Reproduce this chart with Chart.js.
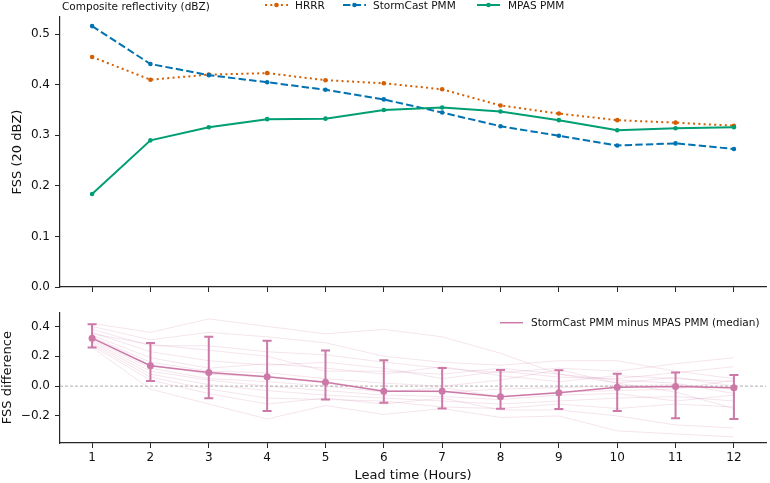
<!DOCTYPE html>
<html>
<head>
<meta charset="utf-8">
<script src="https://cdn.jsdelivr.net/npm/chart.js@4.4.1/dist/chart.umd.min.js"></script>
<style>
  html, body { margin: 0; padding: 0; background: #fff; }
  #wrap { position: relative; width: 770px; height: 483px; }
  #top { position: absolute; left: 0; top: 0; width: 770px; height: 300px; }
  #bottom { position: absolute; left: 0; top: 300px; width: 770px; height: 183px; }
</style>
</head>
<body>
<div id="wrap">
  <div id="top"><canvas id="fssChart"></canvas></div>
  <div id="bottom"><canvas id="diffChart"></canvas></div>
</div>
<script>
var leadTimes = [1, 2, 3, 4, 5, 6, 7, 8, 9, 10, 11, 12];

// top panel: FSS at 20 dBZ
var hrrr      = [0.455, 0.410, 0.420, 0.423, 0.409, 0.403, 0.391, 0.359, 0.343, 0.330, 0.325, 0.319];
var stormcast = [0.516, 0.441, 0.419, 0.405, 0.390, 0.371, 0.345, 0.318, 0.299, 0.280, 0.284, 0.273];
var mpas      = [0.184, 0.290, 0.316, 0.332, 0.333, 0.350, 0.355, 0.347, 0.330, 0.310, 0.314, 0.316];

// bottom panel: StormCast PMM minus MPAS PMM
var diffMedian = [0.321, 0.137, 0.091, 0.063, 0.026, -0.035, -0.035, -0.072, -0.044, -0.007, -0.002, -0.011];
var diffLow    = [0.258, 0.035, -0.081, -0.167, -0.089, -0.111, -0.150, -0.152, -0.154, -0.167, -0.215, -0.221];
var diffHigh   = [0.414, 0.289, 0.330, 0.304, 0.238, 0.174, 0.121, 0.108, 0.106, 0.082, 0.091, 0.074];
var diffCases = [
  [0.42, 0.36, 0.45, 0.40, 0.35, 0.38, 0.33, 0.22, 0.08, 0.02, -0.04, -0.15],
  [0.40, 0.31, 0.36, 0.33, 0.29, 0.20, 0.16, 0.14, 0.17, 0.17, 0.10, 0.05],
  [0.38, 0.27, 0.27, 0.23, 0.21, 0.16, 0.12, 0.09, 0.12, 0.10, 0.15, 0.19],
  [0.36, 0.23, 0.17, 0.14, 0.16, 0.12, 0.05, 0.10, 0.06, 0.05, 0.09, 0.13],
  [0.35, 0.28, 0.24, 0.20, 0.10, 0.10, 0.08, 0.12, 0.08, 0.04, 0.02, -0.05],
  [0.34, 0.19, 0.12, 0.15, 0.12, 0.08, 0.13, 0.07, 0.03, 0.07, 0.05, 0.03],
  [0.33, 0.16, 0.10, 0.09, 0.05, 0.02, 0.00, 0.04, 0.11, 0.02, 0.06, 0.00],
  [0.32, 0.14, 0.08, 0.06, 0.03, -0.03, -0.04, -0.02, -0.01, 0.00, 0.01, -0.02],
  [0.31, 0.12, 0.05, 0.03, 0.00, -0.04, -0.01, -0.07, -0.04, -0.03, -0.02, 0.04],
  [0.30, 0.10, 0.04, 0.00, -0.03, -0.06, -0.07, -0.09, -0.06, -0.05, -0.10, -0.06],
  [0.29, 0.08, 0.01, -0.03, -0.06, -0.08, -0.10, -0.12, -0.10, -0.08, -0.07, -0.10],
  [0.28, 0.06, -0.02, -0.08, -0.09, -0.10, -0.14, -0.15, -0.12, -0.15, -0.12, -0.14],
  [0.27, 0.04, -0.05, -0.12, -0.08, -0.12, -0.08, -0.16, -0.16, -0.20, -0.26, -0.28],
  [0.26, -0.02, -0.12, -0.22, -0.13, -0.19, -0.15, -0.21, -0.20, -0.30, -0.32, -0.34]
];

var ORANGE = '#D55E00', BLUE = '#0072B2', GREEN = '#009E73', PINK = '#CC79A7';
var AXIS = '#262626';
var FONT = 'DejaVu Sans';

Chart.defaults.font.family = FONT;
Chart.defaults.color = '#111';

function pts(values) {
  return leadTimes.map(function(t, i) { return {x: t, y: values[i]}; });
}

function fmt(v) {
  if (Math.abs(v) < 1e-9) return '0.0';
  return v.toFixed(1).replace('-', '\u2212');
}

function xAxis(showLabels, height) {
  return {
    type: 'linear', min: 0.45, max: 12.55,
    ticks: {stepSize: 1, includeBounds: false, display: showLabels, padding: 3,
            font: {size: 12}, color: '#111'},
    grid: {drawOnChartArea: false, tickLength: 5, tickColor: AXIS, lineWidth: 1},
    border: {color: AXIS, width: 1.2},
    title: {display: showLabels, text: 'Lead time (Hours)', font: {size: 13}, color: '#111',
            padding: {top: 0, bottom: 0}},
    afterFit: function(s) { s.height = height; }
  };
}

function yAxis(min, max, step, title, titlePad) {
  return {
    min: min, max: max,
    ticks: {stepSize: step, includeBounds: false, padding: 5, font: {size: 12}, color: '#111',
            callback: function(v) { return fmt(v); }},
    grid: {drawOnChartArea: false, tickLength: 5, tickColor: AXIS, lineWidth: 1},
    border: {color: AXIS, width: 1.2},
    title: {display: true, text: title, font: {size: 13}, color: '#111',
            padding: {top: titlePad, bottom: 0}},
    afterFit: function(s) { s.width = 60; }
  };
}

function legendLine(ctx, x, y, color, dash, width, marker) {
  ctx.save();
  ctx.strokeStyle = color;
  ctx.lineWidth = width;
  ctx.setLineDash(dash);
  ctx.beginPath();
  ctx.moveTo(x, y);
  ctx.lineTo(x + 23, y);
  ctx.stroke();
  if (marker) {
    ctx.setLineDash([]);
    ctx.fillStyle = color;
    ctx.beginPath();
    ctx.arc(x + 11.5, y, 2.3, 0, Math.PI * 2);
    ctx.fill();
  }
  ctx.restore();
}

var topLegend = {
  id: 'topLegend',
  afterDraw: function(chart) {
    var ctx = chart.ctx;
    ctx.save();
    ctx.font = '10.5px "' + FONT + '"';
    ctx.fillStyle = '#111';
    ctx.textBaseline = 'middle';
    ctx.fillText('Composite reflectivity (dBZ)', 62, 7);
    legendLine(ctx, 265, 5, ORANGE, [2, 3.3], 2, true);
    ctx.fillText('HRRR', 295, 6);
    legendLine(ctx, 343, 5, BLUE, [7.4, 3.2], 2, true);
    ctx.fillText('StormCast PMM', 373, 6);
    legendLine(ctx, 477, 5, GREEN, [], 2, true);
    ctx.fillText('MPAS PMM', 508, 6);
    ctx.restore();
  }
};

new Chart(document.getElementById('fssChart'), {
  type: 'line',
  data: {
    datasets: [
      {label: 'HRRR', data: pts(hrrr), borderColor: ORANGE, backgroundColor: ORANGE,
       borderWidth: 2, borderDash: [2, 3.3], pointRadius: 2.3, pointBorderWidth: 0, order: 3},
      {label: 'StormCast PMM', data: pts(stormcast), borderColor: BLUE, backgroundColor: BLUE,
       borderWidth: 2, borderDash: [7.4, 3.2], pointRadius: 2.3, pointBorderWidth: 0, order: 2},
      {label: 'MPAS PMM', data: pts(mpas), borderColor: GREEN, backgroundColor: GREEN,
       borderWidth: 2, pointRadius: 2.3, pointBorderWidth: 0, order: 1}
    ]
  },
  options: {
    responsive: true, maintainAspectRatio: false, animation: false,
    layout: {padding: {top: 17, right: 2, left: 0, bottom: 0}},
    plugins: {legend: {display: false}, tooltip: {enabled: false}},
    scales: {
      x: xAxis(false, 13),
      y: yAxis(0, 0.534, 0.1, 'FSS (20 dBZ)', 10)
    }
  },
  plugins: [topLegend]
});

var diffExtras = {
  id: 'diffExtras',
  beforeDatasetsDraw: function(chart) {
    var ctx = chart.ctx, area = chart.chartArea;
    var y0 = chart.scales.y.getPixelForValue(0);
    ctx.save();
    ctx.strokeStyle = '#999';
    ctx.lineWidth = 0.8;
    ctx.setLineDash([3, 2]);
    ctx.beginPath();
    ctx.moveTo(area.left, y0);
    ctx.lineTo(area.right, y0);
    ctx.stroke();
    ctx.restore();
  },
  beforeDatasetDraw: function(chart, args) {
    if (args.index !== 0) return;
    var ctx = chart.ctx, xs = chart.scales.x, ys = chart.scales.y;
    ctx.save();
    ctx.strokeStyle = PINK;
    ctx.lineWidth = 2;
    leadTimes.forEach(function(t, i) {
      var px = xs.getPixelForValue(t);
      var lo = ys.getPixelForValue(diffLow[i]);
      var hi = ys.getPixelForValue(diffHigh[i]);
      ctx.beginPath();
      ctx.moveTo(px, lo); ctx.lineTo(px, hi);
      ctx.moveTo(px - 4.5, lo); ctx.lineTo(px + 4.5, lo);
      ctx.moveTo(px - 4.5, hi); ctx.lineTo(px + 4.5, hi);
      ctx.stroke();
    });
    ctx.restore();
  },
  afterDraw: function(chart) {
    var ctx = chart.ctx;
    ctx.save();
    legendLine(ctx, 500, 22.7, PINK, [], 1.5, false);
    ctx.font = '10.5px "' + FONT + '"';
    ctx.fillStyle = '#111';
    ctx.textBaseline = 'middle';
    ctx.fillText('StormCast PMM minus MPAS PMM (median)', 531, 23.5);
    ctx.restore();
  }
};

var diffSets = [{
  label: 'StormCast PMM minus MPAS PMM (median)', data: pts(diffMedian),
  borderColor: PINK, backgroundColor: PINK, borderWidth: 1.5,
  pointRadius: 3.5, pointBorderWidth: 0
}];
diffCases.forEach(function(c) {
  diffSets.push({data: pts(c), borderColor: 'rgba(204,121,167,0.25)', borderWidth: 0.8,
                 pointRadius: 0});
});

new Chart(document.getElementById('diffChart'), {
  type: 'line',
  data: {datasets: diffSets},
  options: {
    responsive: true, maintainAspectRatio: false, animation: false,
    layout: {padding: {top: 8, right: 2, left: 0, bottom: 0}},
    plugins: {legend: {display: false}, tooltip: {enabled: false}},
    scales: {
      x: xAxis(true, 40),
      y: yAxis(-0.381, 0.495, 0.2, 'FSS difference', 0)
    }
  },
  plugins: [diffExtras]
});
</script>
</body>
</html>
